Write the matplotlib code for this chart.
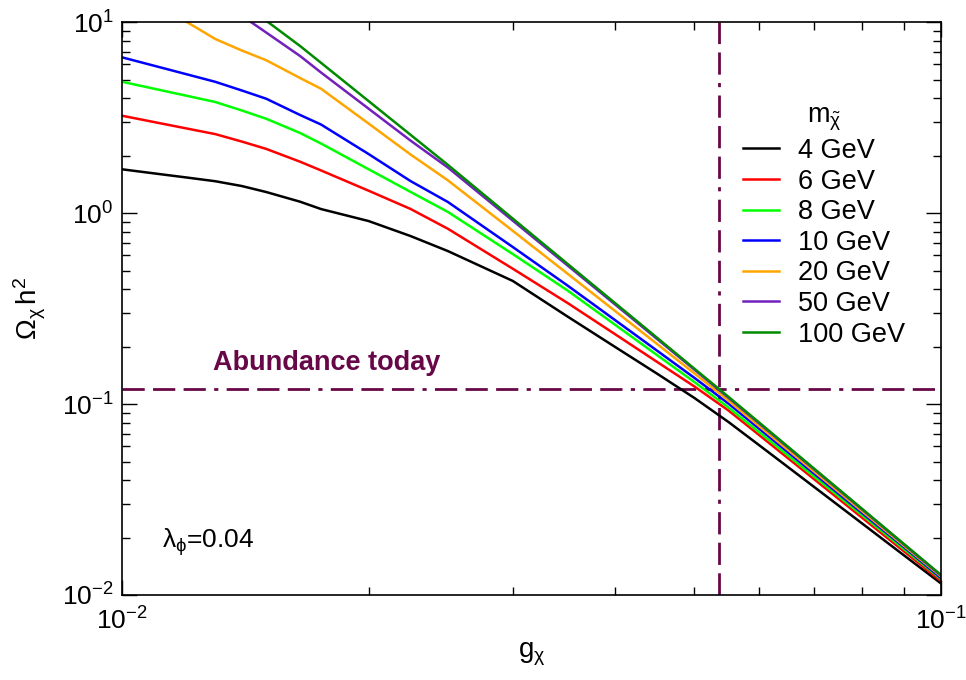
import numpy as np
import matplotlib
matplotlib.use("Agg")
import matplotlib.pyplot as plt
from matplotlib.ticker import LogLocator, NullFormatter

plt.rcParams["font.family"] = ["Liberation Sans", "DejaVu Sans"]
plt.rcParams["mathtext.fontset"] = "custom"
plt.rcParams["mathtext.rm"] = "Liberation Sans"
plt.rcParams["mathtext.it"] = "Liberation Sans"
plt.rcParams["mathtext.bf"] = "Liberation Sans:bold"
plt.rcParams["axes.unicode_minus"] = False

nan = np.nan
# coupling g_chi (x axis)
g_chi = [0.010, 0.011, 0.012, 0.013, 0.014, 0.015, 0.0165, 0.0175, 0.020, 0.0225, 0.025,
         0.030, 0.035, 0.040, 0.045, 0.050, 0.055, 0.060, 0.070, 0.080, 0.090, 0.100]

# relic abundance Omega_chi h^2 per dark-matter mass
omega_4 = [1.694, 1.608, 1.534, 1.467, 1.385, 1.288, 1.146, 1.049, 0.908, 0.758, 0.632,
           0.441, 0.287, 0.199, 0.1443, 0.1075, 0.0806, 0.0608, 0.0368, 0.0238, 0.0162, 0.0115]
omega_6 = [3.232, 2.981, 2.770, 2.589, 2.368, 2.166, 1.856, 1.671, 1.309, 1.051, 0.827,
           0.511, 0.338, 0.232, 0.1663, 0.1235, 0.0926, 0.0687, 0.0404, 0.0255, 0.0170, 0.01184]
omega_8 = [4.868, 4.454, 4.108, 3.813, 3.445, 3.116, 2.624, 2.311, 1.696, 1.291, 1.013,
           0.610, 0.393, 0.260, 0.1805, 0.1303, 0.0960, 0.0711, 0.0417, 0.0263, 0.01748, 0.01213]
omega_10 = [6.535, 5.871, 5.323, 4.863, 4.384, 3.967, 3.26, 2.906, 2.037, 1.471, 1.142,
            0.664, 0.417, 0.275, 0.1904, 0.1370, 0.1006, 0.0742, 0.0432, 0.0270, 0.0179, 0.01227]
omega_20 = [nan, 12.53, 10.0, 8.147, 7.10, 6.31, 5.09, 4.475, 2.942, 2.027, 1.483,
            0.807, 0.481, 0.307, 0.2064, 0.1446, 0.1042, 0.0765, 0.0443, 0.0276, 0.01818, 0.0125]
omega_50 = [nan, nan, nan, nan, 10.80, 8.81, 6.637, 5.44, 3.52, 2.397, 1.730,
            0.912, 0.531, 0.332, 0.2192, 0.1512, 0.1079, 0.0790, 0.0455, 0.0282, 0.01847, 0.01265]
omega_100 = [nan, nan, nan, nan, 12.68, 10.16, 7.486, 6.114, 3.858, 2.570, 1.786,
             0.935, 0.5415, 0.3376, 0.2225, 0.1530, 0.1092, 0.0799, 0.0459, 0.0284, 0.01858, 0.01273]

mass_labels = ["4 GeV", "6 GeV", "8 GeV", "10 GeV", "20 GeV", "50 GeV", "100 GeV"]
colors = ["#000000", "#ff0000", "#00ff00", "#0000ff", "#ffa500", "#7221bc", "#008b00"]

omega_today = 0.12   # observed abundance
g_today = 0.0535     # coupling giving it
maroon = "#670748"

fig = plt.figure(figsize=(9.66, 6.8), dpi=100)
ax = fig.add_axes([0.1263, 0.125, 0.8478, 0.8426])

series = [omega_4, omega_6, omega_8, omega_10, omega_20, omega_50, omega_100]
for vals, lab, col in zip(series, mass_labels, colors):
    ax.plot(g_chi, np.array(vals, float), color=col, lw=1.8, label=lab)

dash = (0, (8, 3, 8, 3, 8, 3, 1.5, 3))
ax.axhline(omega_today, color=maroon, lw=2, ls=dash, zorder=1)
ax.axvline(g_today, color=maroon, lw=2, ls=dash, zorder=1)

ax.set_xscale("log"); ax.set_yscale("log")
ax.set_xlim(0.01, 0.1); ax.set_ylim(0.01, 10)
ax.yaxis.set_major_locator(LogLocator(base=10, numticks=10))
ax.yaxis.set_minor_locator(LogLocator(base=10, subs=np.arange(2, 10), numticks=10))
ax.xaxis.set_minor_formatter(NullFormatter())
ax.yaxis.set_minor_formatter(NullFormatter())
ax.tick_params(which="both", direction="in", top=True, right=True, width=1.0, labelsize=19)
ax.tick_params(which="major", length=11)
ax.tick_params(which="minor", length=5.5)
ax.tick_params(axis="x", pad=9)
ax.tick_params(axis="y", pad=6)
for s in ax.spines.values():
    s.set_linewidth(1.2)

ax.set_xlabel(r"g$_{\chi}$", fontsize=20, labelpad=4)
ax.set_ylabel(r"$\Omega_{\chi}\,$h$^{2}$", fontsize=20, labelpad=10)

ax.text(0.111, 0.393, "Abundance today", transform=ax.transAxes, color=maroon,
        fontsize=19.5, fontweight="bold", va="baseline")
ax.text(0.049, 0.082, r"λ$_{\phi}$=0.04", transform=ax.transAxes, fontsize=19,
        va="baseline")

leg = ax.legend(loc="upper left", bbox_to_anchor=(732 / 966, 1 - 92 / 680),
                bbox_transform=fig.transFigure, frameon=False, fontsize=19.5,
                title=r"m$_{\tilde{\chi}}$", title_fontsize=19.5, handlelength=1.35,
                handletextpad=0.7, labelspacing=0.17, borderpad=0.4, borderaxespad=0)

fig.savefig("out.png", dpi=100)
